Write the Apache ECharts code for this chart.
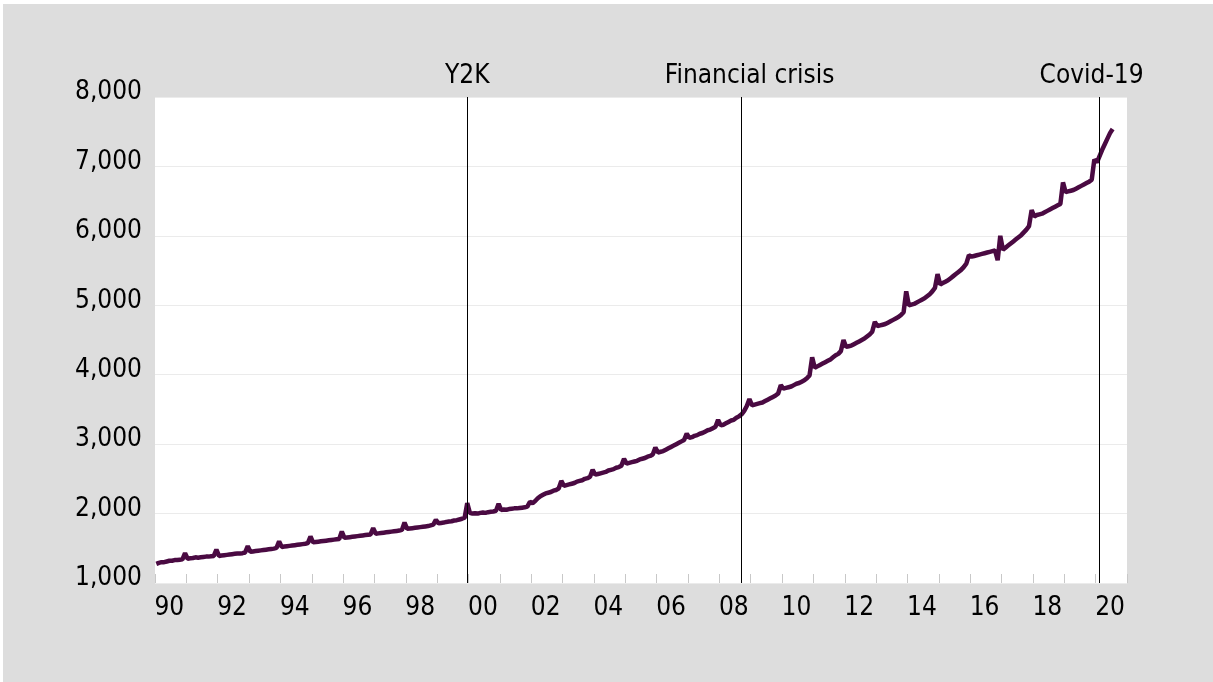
<!DOCTYPE html>
<html>
<head>
<meta charset="utf-8">
<script src="https://cdn.jsdelivr.net/npm/echarts@6/dist/echarts.min.js"></script>
<style>
html,body{margin:0;padding:0;background:#fff;}
#chart{width:1213px;height:682px;}
</style>
</head>
<body>
<div id="chart"></div>
<script>
// Monthly values, Jan..Dec per row
const sales1990s = [
  1275,1290,1300,1300,1310,1320,1320,1330,1330,1335,1340,1430,
  1350,1355,1360,1370,1365,1370,1375,1380,1380,1385,1390,1480,
  1390,1395,1400,1405,1410,1415,1420,1425,1425,1430,1440,1530,
  1450,1455,1460,1465,1470,1475,1480,1485,1490,1495,1505,1600,
  1520,1525,1530,1535,1540,1545,1550,1555,1560,1565,1575,1670,
  1585,1590,1595,1600,1605,1610,1615,1620,1625,1630,1635,1740,
  1650,1655,1660,1665,1670,1675,1680,1685,1690,1695,1700,1790,
  1710,1715,1720,1725,1730,1735,1740,1745,1750,1755,1765,1870,
  1780,1785,1790,1795,1800,1805,1810,1815,1820,1830,1840,1910,
  1860,1865,1870,1880,1885,1890,1900,1905,1915,1925,1940,2150
];
const sales2000s = [
  2010,2000,2005,2000,2010,2015,2010,2020,2025,2030,2040,2140,
  2050,2060,2055,2065,2070,2075,2075,2080,2085,2090,2100,2170,
  2150,2180,2220,2250,2270,2290,2300,2310,2330,2340,2360,2470,
  2400,2410,2420,2430,2440,2460,2470,2480,2500,2510,2530,2630,
  2560,2570,2580,2590,2600,2620,2630,2640,2660,2670,2690,2790,
  2720,2730,2740,2750,2760,2780,2790,2800,2820,2830,2850,2950,
  2880,2890,2900,2920,2940,2960,2980,3000,3020,3040,3060,3150,
  3090,3100,3120,3130,3150,3160,3180,3200,3210,3230,3250,3350,
  3270,3280,3300,3320,3340,3350,3380,3400,3430,3480,3550,3650,
  3560,3570,3580,3590,3600,3620,3640,3660,3680,3700,3730,3850
];
const sales2010s = [
  3800,3810,3820,3830,3850,3870,3880,3900,3920,3950,3990,4250,
  4100,4120,4140,4160,4180,4200,4220,4250,4280,4300,4340,4500,
  4400,4410,4420,4440,4460,4480,4500,4520,4550,4580,4620,4760,
  4700,4710,4720,4730,4750,4770,4790,4810,4830,4860,4900,5200,
  5000,5010,5020,5040,5060,5080,5100,5130,5160,5200,5250,5450,
  5300,5320,5340,5360,5390,5420,5450,5480,5510,5550,5600,5720,
  5700,5710,5720,5730,5740,5750,5760,5770,5780,5790,5650,6000,
  5800,5830,5860,5890,5920,5950,5980,6010,6050,6090,6140,6370,
  6280,6300,6310,6320,6340,6360,6380,6400,6420,6440,6460,6770,
  6630,6640,6650,6660,6680,6700,6720,6740,6760,6780,6810,7100
];
const sales2020 = [7060,7150,7240,7320,7400,7480,7540];

const firstYear = 1990;
const lastYear = 2020;
const yTicks = [1000,2000,3000,4000,5000,6000,7000,8000];
const events = [
  {name:'Y2K', month:'1999-12'},
  {name:'Financial crisis', month:'2008-09'},
  {name:'Covid-19', month:'2020-02'}
];

const categories = [];
for (let y = firstYear; y <= lastYear; y++) {
  for (let m = 1; m <= 12; m++) categories.push(y + '-' + (m < 10 ? '0' + m : m));
}
const values = sales1990s.concat(sales2000s, sales2010s, sales2020);

const FONT = "'DejaVu Sans Condensed', 'DejaVu Sans', sans-serif";
const chart = echarts.init(document.getElementById('chart'), null, {renderer:'canvas'});

const labelPad = {'Y2K':[0,0,0,0], 'Financial crisis':[0,0,0,16], 'Covid-19':[0,16,0,0]};

chart.setOption({
  backgroundColor:'#ffffff',
  animation:false,
  graphic:[{type:'rect', left:3, top:4, shape:{width:1210, height:678}, style:{fill:'#dddddd'}, z:-10}],
  grid:{left:155, top:97, right:86, bottom:99, show:true, backgroundColor:'#ffffff', borderWidth:0},
  xAxis:{
    type:'category', data:categories, boundaryGap:true,
    axisLine:{show:false},
    axisTick:{show:true, inside:true, length:9, lineStyle:{color:'#c8c8c8', width:1},
      interval:function(i){ return i % 12 === 0; }},
    axisLabel:{
      interval:function(i){ return i % 24 === 5; },
      formatter:function(v){ return v.slice(2,4); },
      color:'#000', fontSize:26, fontFamily:FONT, margin:12
    },
    splitLine:{show:false}
  },
  yAxis:{
    type:'value', min:yTicks[0], max:yTicks[yTicks.length-1], interval:1000,
    axisLine:{show:false}, axisTick:{show:false},
    axisLabel:{color:'#000', fontSize:26, fontFamily:FONT, margin:13,
      verticalAlign:'bottom', lineHeight:9,
      formatter:function(v){ return v.toLocaleString('en-US'); }},
    splitLine:{show:true, lineStyle:{color:'#ebebeb', width:1}}
  },
  series:[{
    type:'line', data:values, showSymbol:false, symbol:'none',
    lineStyle:{color:'#4a0a42', width:4.5}, itemStyle:{color:'#4a0a42'},
    z:3,
    markLine:{
      silent:true, symbol:['none','none'], animation:false,
      lineStyle:{color:'#000', width:1, type:'solid'},
      label:{show:true, position:'end', distance:8, color:'#000', fontSize:26, fontFamily:FONT},
      data:events.map(function(e){
        return {xAxis:e.month, label:{formatter:e.name, padding:labelPad[e.name]}};
      })
    }
  }]
});
</script>
</body>
</html>
